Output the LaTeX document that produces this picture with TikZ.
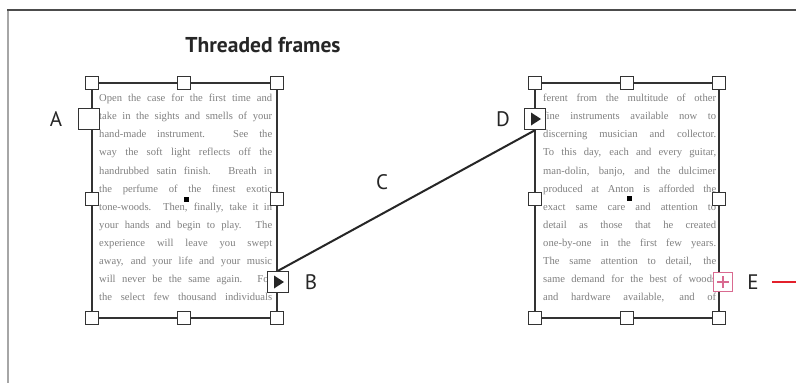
\documentclass[tikz,border=0pt]{standalone}
\usepackage{fontspec}
\setmainfont{Liberation Serif}
\newfontfamily\labelfont{PT Sans}
\definecolor{framec}{HTML}{333333}
\definecolor{textc}{HTML}{808080}
\definecolor{pinkc}{HTML}{D96A90}
\definecolor{redc}{HTML}{E3202B}
\newcommand{\jl}[1]{\makebox[173pt][s]{#1}\\}
\begin{document}
\begin{tikzpicture}[x=1pt,y=-1pt,
  handle/.style={draw=framec,fill=white,line width=1.4pt,minimum size=13.5pt,inner sep=0pt},
  portbox/.style={draw=framec,fill=white,line width=1.4pt,minimum size=21pt,inner sep=0pt},
  framebox/.style={draw=framec,line width=1.8pt},
  bodytext/.style={anchor=north west,inner sep=0pt,text=textc,align=left,font={\fontsize{10.6}{18.1}\selectfont}},
  lab/.style={font={\labelfont\fontsize{21}{21}\selectfont},text=black!85,inner sep=0pt}]
\useasboundingbox (0,0) rectangle (796,383);
\fill[white] (0,0) rectangle (796,383);
% border
\draw[line width=1.5pt,black!35] (8,10) -- (8,383);
\draw[line width=2.4pt,black!70] (7,10) -- (796,10);
% title
\node[font={\labelfont\bfseries\fontsize{21.5}{21.5}\selectfont},text=black!85] (title) at (263,45) {Threaded frames};
% left text
\begin{scope}
\clip (92,83) rectangle (277,318);
\node[bodytext] (ltext) at (99,94) {%
\jl{Open the case for the first time and}
\jl{take in the sights and smells of your}
\jl{hand-made instrument. See the}
\jl{way the soft light reflects off the}
\jl{handrubbed satin finish. Breath in}
\jl{the perfume of the finest exotic}
\jl{tone-woods. Then, finally, take it in}
\jl{your hands and begin to play. The}
\jl{experience will leave you swept}
\jl{away, and your life and your music}
\jl{will never be the same again. For}
\makebox[173pt][s]{the select few thousand individuals}};
\end{scope}
% right text
\begin{scope}
\clip (535,83) rectangle (719,318);
\node[bodytext] (rtext) at (543,94) {%
\jl{ferent from the multitude of other}
\jl{fine instruments available now to}
\jl{discerning musician and collector.}
\jl{To this day, each and every guitar,}
\jl{man-dolin, banjo, and the dulcimer}
\jl{produced at Anton is afforded the}
\jl{exact same care and attention to}
\jl{detail as those that he created}
\jl{one-by-one in the first few years.}
\jl{The same attention to detail, the}
\jl{same demand for the best of woods}
\makebox[173pt][s]{and hardware available, and of}};
\end{scope}
% frames
\draw[framebox] (92,83) rectangle (277,318);
\draw[framebox] (535,83) rectangle (719,318);
% handles
\foreach \n/\x/\y in {a/92/83,b/184/83,c/277/83,d/92/199,e/277/199,f/92/318,g/184/318,h/277/318}
  \node[handle] (L\n) at (\x,\y) {};
\foreach \n/\x/\y in {a/535/83,b/627/83,c/719/83,d/535/199,e/719/199,f/535/318,g/627/318,h/719/318}
  \node[handle] (R\n) at (\x,\y) {};
\node[fill=black,minimum size=5pt,inner sep=0pt] (Lc) at (186,199) {};
\node[fill=black,minimum size=5pt,inner sep=0pt] (Rc) at (629,198) {};
% ports
\node[portbox] (A) at (89,119) {};
\node[portbox] (B) at (278,282) {};
\node[portbox] (D) at (535,119) {};
\draw[line width=2pt,black!85] (B.north) -- (D.south);
\node[portbox] (B2) at (278,282) {};
\node[portbox] (D2) at (535,119) {};
\fill[black!85] ([shift={(-4,-6.5)}]B2.center) -- ([shift={(6,0)}]B2.center) -- ([shift={(-4,6.5)}]B2.center) -- cycle;
\fill[black!85] ([shift={(-4,-6.5)}]D2.center) -- ([shift={(6,0)}]D2.center) -- ([shift={(-4,6.5)}]D2.center) -- cycle;
\node[draw=pinkc,fill=white,line width=1.4pt,minimum size=19pt,inner sep=0pt] (E) at (723,282) {};
\draw[pinkc,line width=1.4pt] ([shift={(-6,0)}]E.center) -- ([shift={(6,0)}]E.center)
  ([shift={(0,-6)}]E.center) -- ([shift={(0,6)}]E.center);
% labels
\node[lab] (la) at (56,119) {A};
\node[lab] (lb) at (311,282) {B};
\node[lab] (lc) at (382,182) {C};
\node[lab] (ld) at (503,119) {D};
\node[lab] (le) at (753,282) {E};
\coordinate (eend) at (796,282);
\draw[redc,line width=1.5pt] (772,282) -- (eend);
\end{tikzpicture}
\end{document}
